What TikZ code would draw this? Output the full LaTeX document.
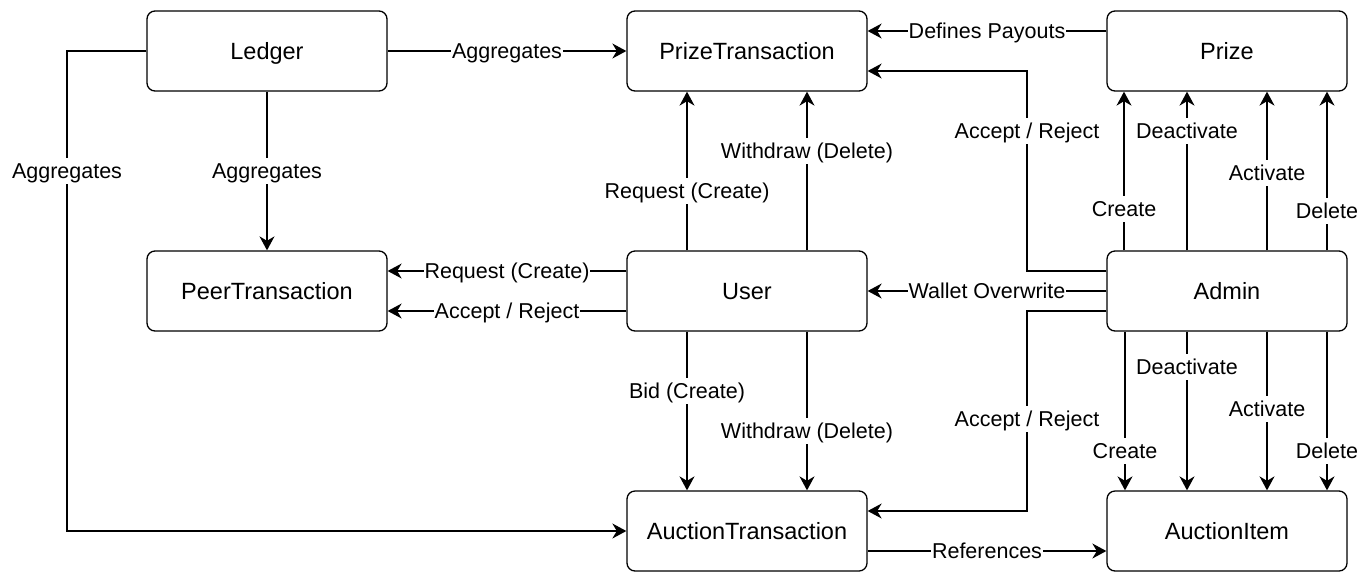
\documentclass[tikz,border=0pt]{standalone}
\usepackage{fontspec}
\setmainfont{Liberation Sans}
\usetikzlibrary{arrows.meta}
\begin{document}
\begin{tikzpicture}[x=1pt,y=-1pt,
  box/.style={draw, line width=1.3pt, rounded corners=8pt, minimum width=240pt, minimum height=80pt, fill=white, inner sep=0pt, text height=21pt, text depth=5pt, font=\fontsize{23.5}{28}\selectfont},
  conn/.style={line width=1.3pt, -{Stealth[length=14pt,width=15pt,inset=4.5pt]}},
  lbl/.style={fill=white, inner sep=1pt, text height=19.5pt, text depth=4.5pt, font=\fontsize{21.5}{26}\selectfont}]
\useasboundingbox (0,0) rectangle (1370,582);
% nodes
\node[box] (Ledger) at (267,51) {Ledger};
\node[box] (PrizeTransaction) at (747,51) {PrizeTransaction};
\node[box] (Prize) at (1227,51) {Prize};
\node[box] (PeerTransaction) at (267,291) {PeerTransaction};
\node[box] (User) at (747,291) {User};
\node[box] (Admin) at (1227,291) {Admin};
\node[box] (AuctionTransaction) at (747,531) {AuctionTransaction};
\node[box] (AuctionItem) at (1227,531) {AuctionItem};
% helper coordinates
\coordinate (lc1) at (67,51);
\coordinate (lc2) at (67,531);
\coordinate (ap1) at (1027,271);
\coordinate (ap2) at (1027,71);
\coordinate (aa1) at (1027,311);
\coordinate (aa2) at (1027,511);
% Ledger edges
\draw[conn] (Ledger.east) -- node[lbl]{Aggregates} (PrizeTransaction.west);
\draw[conn] (Ledger.south) -- node[lbl]{Aggregates} (PeerTransaction.north);
\draw[conn] (Ledger.west) -- (lc1) -- node[lbl,pos=0.25]{Aggregates} (lc2) -- (AuctionTransaction.west);
% Prize
\draw[conn] ([yshift=20pt]Prize.west) -- node[lbl]{Defines Payouts} ([yshift=20pt]PrizeTransaction.east);
% Admin
\draw[conn] ([yshift=20pt]Admin.west) -- (ap1) -- node[lbl,pos=0.7]{Accept / Reject} (ap2) -- ([yshift=-20pt]PrizeTransaction.east);
\draw[conn] (Admin.west) -- node[lbl]{Wallet Overwrite} (User.east);
\draw[conn] ([yshift=-20pt]Admin.west) -- (aa1) -- node[lbl,pos=0.54]{Accept / Reject} (aa2) -- ([yshift=20pt]AuctionTransaction.east);
\draw[conn] ([xshift=-103pt]Admin.north) -- node[lbl,pos=0.2625]{Create} ([xshift=-103pt]Prize.south);
\draw[conn] ([xshift=-40pt]Admin.north) -- node[lbl,pos=0.75]{Deactivate} ([xshift=-40pt]Prize.south);
\draw[conn] ([xshift=40pt]Admin.north) -- node[lbl,pos=0.49]{Activate} ([xshift=40pt]Prize.south);
\draw[conn] ([xshift=100pt]Admin.north) -- node[lbl,pos=0.25]{Delete} ([xshift=100pt]Prize.south);
\draw[conn] ([xshift=-102pt]Admin.south) -- node[lbl,pos=0.75]{Create} ([xshift=-102pt]AuctionItem.north);
\draw[conn] ([xshift=-40pt]Admin.south) -- node[lbl,pos=0.225]{Deactivate} ([xshift=-40pt]AuctionItem.north);
\draw[conn] ([xshift=40pt]Admin.south) -- node[lbl,pos=0.4875]{Activate} ([xshift=40pt]AuctionItem.north);
\draw[conn] ([xshift=100pt]Admin.south) -- node[lbl,pos=0.75]{Delete} ([xshift=100pt]AuctionItem.north);
% User
\draw[conn] ([xshift=-60pt]User.north) -- node[lbl,pos=0.375]{Request (Create)} ([xshift=-60pt]PrizeTransaction.south);
\draw[conn] ([xshift=60pt]User.north) -- node[lbl,pos=0.625]{Withdraw (Delete)} ([xshift=60pt]PrizeTransaction.south);
\draw[conn] ([yshift=20pt]User.west) -- node[lbl]{Request (Create)} ([yshift=20pt]PeerTransaction.east);
\draw[conn] ([yshift=-20pt]User.west) -- node[lbl]{Accept / Reject} ([yshift=-20pt]PeerTransaction.east);
\draw[conn] ([xshift=-60pt]User.south) -- node[lbl,pos=0.375]{Bid (Create)} ([xshift=-60pt]AuctionTransaction.north);
\draw[conn] ([xshift=60pt]User.south) -- node[lbl,pos=0.625]{Withdraw (Delete)} ([xshift=60pt]AuctionTransaction.north);
% AuctionTransaction
\draw[conn] ([yshift=-20pt]AuctionTransaction.east) -- node[lbl]{References} ([yshift=-20pt]AuctionItem.west);
\end{tikzpicture}
\end{document}
